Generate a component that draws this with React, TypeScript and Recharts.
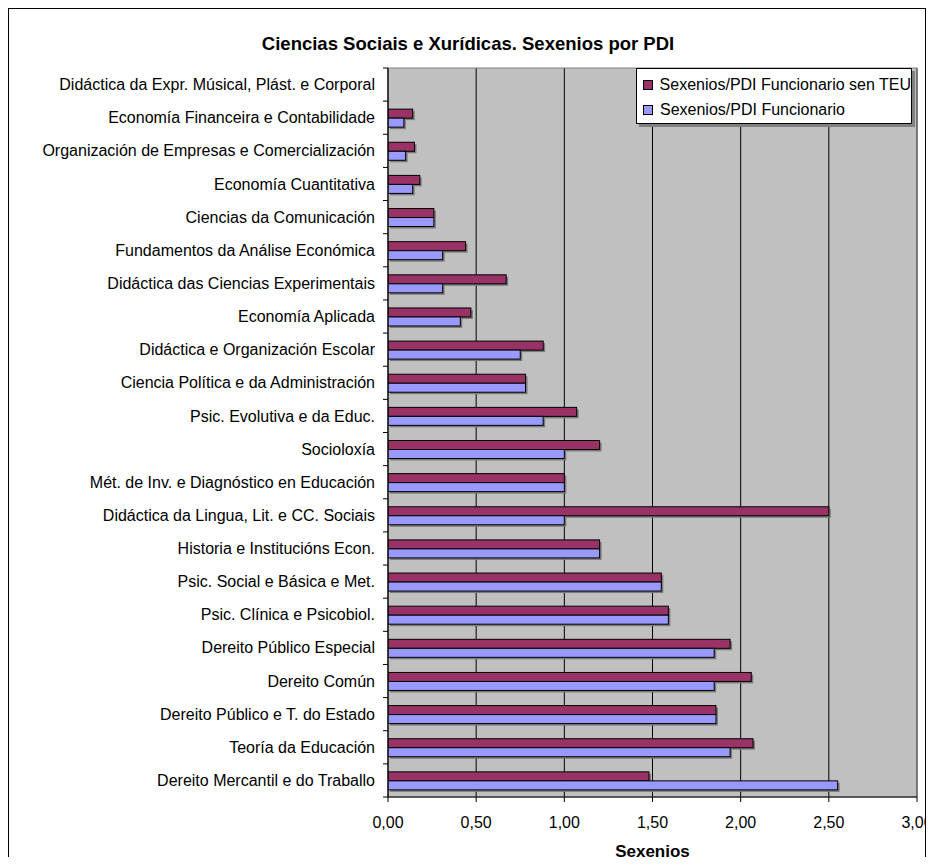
import React from 'react';
import { BarChart, Bar, XAxis, YAxis, CartesianGrid, Legend, ReferenceArea, Customized } from 'recharts';

const categories = [
  'Didáctica da Expr. Músical, Plást. e Corporal',
  'Economía Financeira e Contabilidade',
  'Organización de Empresas e Comercialización',
  'Economía Cuantitativa',
  'Ciencias da Comunicación',
  'Fundamentos da Análise Económica',
  'Didáctica das Ciencias Experimentais',
  'Economía Aplicada',
  'Didáctica e Organización Escolar',
  'Ciencia Política e da Administración',
  'Psic. Evolutiva e da Educ.',
  'Socioloxía',
  'Mét. de Inv. e Diagnóstico en Educación',
  'Didáctica da Lingua, Lit. e CC. Sociais',
  'Historia e Institucións Econ.',
  'Psic. Social e Básica e Met.',
  'Psic. Clínica e Psicobiol.',
  'Dereito Público Especial',
  'Dereito Común',
  'Dereito Público e T. do Estado',
  'Teoría da Educación',
  'Dereito Mercantil e do Traballo',
];

const senTEU: (number | null)[] = [null, 0.14, 0.15, 0.18, 0.26, 0.44, 0.67, 0.47, 0.88, 0.78, 1.07, 1.2, 1.0, 2.5, 1.2, 1.55, 1.59, 1.94, 2.06, 1.86, 2.07, 1.48];
const funcionario: (number | null)[] = [null, 0.09, 0.1, 0.14, 0.26, 0.31, 0.31, 0.41, 0.75, 0.78, 0.88, 1.0, 1.0, 1.0, 1.2, 1.55, 1.59, 1.85, 1.85, 1.86, 1.94, 2.55];

const xTicks = [0, 0.5, 1, 1.5, 2, 2.5, 3];
const seriesNames = ['Sexenios/PDI Funcionario sen TEU', 'Sexenios/PDI Funcionario'];
const seriesColors = ['#993366', '#9999FF'];
const titleText = 'Ciencias Sociais e Xurídicas. Sexenios por PDI';
const xAxisTitle = 'Sexenios';

const data = categories.map((c, i) => ({ name: c, senTEU: senTEU[i], func: funcionario[i] }));

const FONT = '"Liberation Sans", Arial, Helvetica, sans-serif';
const CHART_W = 926;
const CHART_H = 857;
const MARGIN = { top: 60, right: 17, left: 0, bottom: 0 };
const Y_AXIS_W = 380;
const X_AXIS_H = 68;
const PLOT_H = CHART_H - MARGIN.top - MARGIN.bottom - X_AXIS_H;
const BAND = PLOT_H / categories.length;
const PLOT_CX = Y_AXIS_W + (CHART_W - Y_AXIS_W - MARGIN.right) / 2;

const ShadowBar = (props: any) => {
  const { x, y, width, height, fill } = props;
  if (!width || width <= 0) return null;
  return (
    <g>
      <rect x={x + 2} y={y + 2} width={width} height={height} fill="#7a7a7a" />
      <rect x={x} y={y} width={width} height={height} fill={fill} stroke="#000" strokeWidth={1} />
    </g>
  );
};

const YTick = (props: any) => {
  const { x, y, payload, index } = props;
  const axisX = x + 13;
  return (
    <g>
      <line x1={axisX - 5} x2={axisX} y1={y - BAND / 2} y2={y - BAND / 2} stroke="#000" />
      {index === categories.length - 1 && (
        <line x1={axisX - 5} x2={axisX} y1={y + BAND / 2} y2={y + BAND / 2} stroke="#000" />
      )}
      <text x={x} y={y} dy="0.35em" textAnchor="end" fontSize={16} fill="#000" fontFamily={FONT}>
        {payload.value}
      </text>
    </g>
  );
};

const LegendBox = () => (
  <div
    style={{
      width: 276,
      height: 56,
      boxSizing: 'border-box',
      border: '1px solid #000',
      background: '#fff',
      boxShadow: '3px 3px 0 #808080',
      fontFamily: FONT,
      fontSize: 16,
      color: '#000',
      paddingTop: 3,
      paddingLeft: 6,
    }}
  >
    {seriesNames.map((n, i) => (
      <div key={n} style={{ display: 'flex', alignItems: 'center', height: 25, whiteSpace: 'nowrap' }}>
        <span
          style={{
            display: 'inline-block',
            width: 8,
            height: 8,
            border: '1px solid #000',
            background: seriesColors[i],
            marginRight: 7,
          }}
        />
        {n}
      </div>
    ))}
  </div>
);

const Titles = () => (
  <g>
    <text x={460} y={42} textAnchor="middle" fontSize={18.5} fontWeight="bold" fill="#000" fontFamily={FONT}>
      {titleText}
    </text>
    <text x={PLOT_CX} y={849} textAnchor="middle" fontSize={17} fontWeight="bold" fill="#000" fontFamily={FONT}>
      {xAxisTitle}
    </text>
  </g>
);

export default function App() {
  return (
    <div
      style={{
        position: 'relative',
        width: CHART_W,
        height: CHART_H,
        marginBottom: -8,
        background: '#fff',
        fontFamily: FONT,
      }}
    >
      <style>{'#root { width: 926px; } .recharts-surface, .recharts-wrapper { overflow: visible !important; }'}</style>
      <BarChart
        width={CHART_W}
        height={CHART_H}
        data={data}
        layout="vertical"
        margin={MARGIN}
        barGap={0}
      >
        <CartesianGrid horizontal={false} vertical={true} stroke="#000" fill="#C0C0C0" />
        <XAxis
          type="number"
          domain={[0, 3]}
          ticks={xTicks}
          interval={0}
          allowDataOverflow
          tickFormatter={(v: number) => v.toFixed(2).replace('.', ',')}
          tick={{ fill: '#000', fontSize: 16, fontFamily: FONT }}
          axisLine={{ stroke: '#000' }}
          tickLine={{ stroke: '#000' }}
          tickSize={5}
          tickMargin={15}
          height={X_AXIS_H}
        />
        <YAxis
          type="category"
          dataKey="name"
          width={Y_AXIS_W}
          interval={0}
          tick={<YTick />}
          tickLine={false}
          tickSize={5}
          tickMargin={8}
          axisLine={{ stroke: '#000' }}
        />
        <ReferenceArea x1={0} x2={3} fill="none" stroke="#808080" strokeWidth={1} ifOverflow="visible" />
        <Bar dataKey="senTEU" name={seriesNames[0]} fill={seriesColors[0]} barSize={9} shape={<ShadowBar />} isAnimationActive={false} />
        <Bar dataKey="func" name={seriesNames[1]} fill={seriesColors[1]} barSize={9} shape={<ShadowBar />} isAnimationActive={false} />
        <Legend
          layout="vertical"
          align="center"
          verticalAlign="middle"
          content={<LegendBox />}
          wrapperStyle={{ position: 'absolute', left: 628, top: 60, width: 'auto', height: 'auto' }}
        />
        <Customized component={<Titles />} />
      </BarChart>
      <div
        style={{
          position: 'absolute',
          left: 0,
          top: 0,
          width: 918,
          height: CHART_H,
          boxSizing: 'border-box',
          borderTop: '1px solid #000',
          borderLeft: '1px solid #000',
          borderRight: '1px solid #000',
          pointerEvents: 'none',
        }}
      />
    </div>
  );
}
